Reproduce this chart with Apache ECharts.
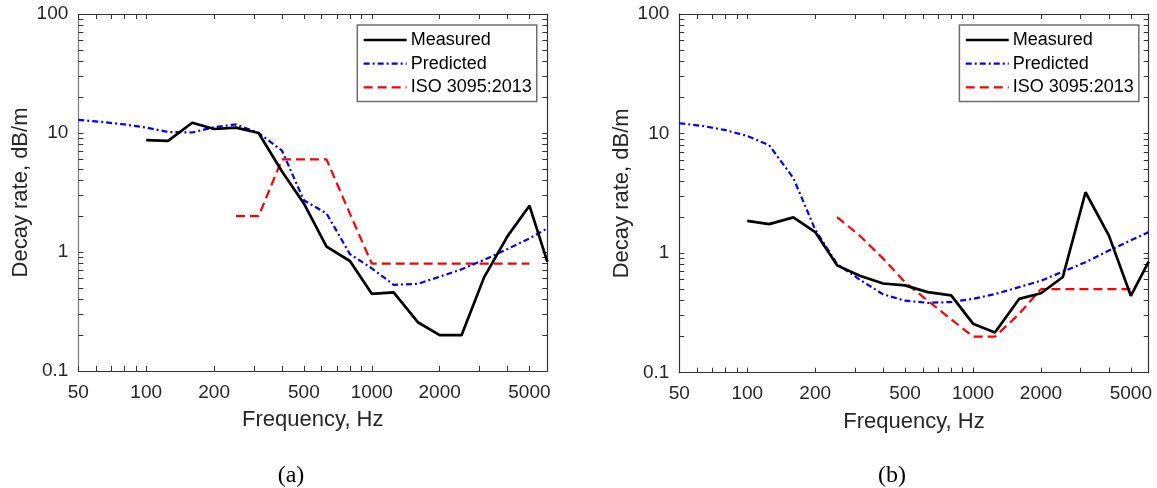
<!DOCTYPE html>
<html>
<head>
<meta charset="utf-8">
<script src="https://cdn.jsdelivr.net/npm/echarts@6/dist/echarts.min.js"></script>
<style>
html,body{margin:0;padding:0;background:#fff;}
#c{width:1157px;height:488px;}
</style>
</head>
<body>
<div id="c"></div>
<script>
// ---- data ----
const freqPredicted = [50, 63, 80, 100, 125, 160, 200, 250, 315, 400, 500, 630, 800, 1000, 1250, 1600, 2000, 2500, 3150, 4000, 5000, 6000];
const freqMeasured = [100, 125, 160, 200, 250, 315, 400, 500, 630, 800, 1000, 1250, 1600, 2000, 2500, 3150, 4000, 5000, 6000];
const freqISO = [250, 315, 400, 500, 630, 800, 1000, 1250, 1600, 2000, 2500, 3150, 4000, 5000];

const measuredA = [8.7, 8.6, 12.2, 10.8, 11.1, 10.0, 4.75, 2.56, 1.11, 0.84, 0.445, 0.458, 0.257, 0.2, 0.2, 0.615, 1.36, 2.45, 0.83];
const predictedA = [12.9, 12.4, 11.8, 11.1, 10.2, 10.1, 11.2, 11.8, 10.0, 7.1, 2.72, 2.11, 0.96, 0.73, 0.53, 0.54, 0.62, 0.715, 0.86, 1.06, 1.3, 1.58];
const isoA = [2.0, 2.0, 6.0, 6.0, 6.0, 2.1, 0.8, 0.8, 0.8, 0.8, 0.8, 0.8, 0.8, 0.8];

const measuredB = [1.86, 1.75, 1.99, 1.5, 0.79, 0.646, 0.557, 0.537, 0.472, 0.443, 0.257, 0.217, 0.414, 0.462, 0.632, 3.23, 1.4, 0.44, 0.85];
const predictedB = [12.2, 11.6, 10.7, 9.55, 8.0, 4.25, 1.57, 0.81, 0.6, 0.452, 0.4, 0.384, 0.39, 0.415, 0.454, 0.52, 0.587, 0.70, 0.84, 1.05, 1.28, 1.5];
const isoB = [2.0, 1.4, 0.9, 0.57, 0.4, 0.28, 0.2, 0.2, 0.31, 0.5, 0.5, 0.5, 0.5, 0.5];

const xTickLabels = [50, 100, 200, 500, 1000, 2000, 5000];
const xTicks = [50, 60, 70, 80, 90, 100, 200, 300, 400, 500, 600, 700, 800, 900, 1000, 2000, 3000, 4000, 5000, 6000];
const yTickLabels = [0.1, 1, 10, 100];
const yTicks = [0.1, 0.2, 0.3, 0.4, 0.5, 0.6, 0.7, 0.8, 0.9, 1, 2, 3, 4, 5, 6, 7, 8, 9, 10, 20, 30, 40, 50, 60, 70, 80, 90, 100];
const seriesNames = ['Measured', 'Predicted', 'ISO 3095:2013'];
const captions = ['(a)', '(b)'];
const xName = 'Frequency, Hz';
const yName = 'Decay rate, dB/m';

// ---- chart ----
const FONT = 'Liberation Sans, Arial, sans-serif';
const AX = '#333333';
const pair = (xs, ys) => xs.map((x, i) => [x, ys[i]]);

const grids = [
  { left: 78.3, top: 14, width: 469, height: 357 },
  { left: 679.3, top: 14, width: 469.4, height: 358.7 }
];

const xAxes = [], yAxes = [];
grids.forEach((g, gi) => {
  xAxes.push({
    type: 'log', logBase: 10, min: 50, max: 6000, gridIndex: gi, position: 'bottom',
    name: xName, nameLocation: 'middle', nameGap: 38,
    nameTextStyle: { fontFamily: FONT, fontSize: 22, color: '#262626' },
    axisLine: { show: true, lineStyle: { color: AX, width: 1.2 } },
    axisTick: { show: true, inside: true, length: 5, customValues: xTicks, lineStyle: { color: AX, width: 1 } },
    axisLabel: { show: true, customValues: xTickLabels, margin: 12, fontFamily: FONT, fontSize: 19, color: '#262626',
      formatter: v => String(Math.round(v)) },
    splitLine: { show: false }, minorTick: { show: false }
  });
  xAxes.push({
    type: 'log', logBase: 10, min: 50, max: 6000, gridIndex: gi, position: 'top',
    axisLine: { show: true, lineStyle: { color: AX, width: 1.2 } },
    axisTick: { show: true, inside: true, length: 5, customValues: xTicks, lineStyle: { color: AX, width: 1 } },
    axisLabel: { show: false }, splitLine: { show: false }
  });
  yAxes.push({
    type: 'log', logBase: 10, min: 0.1, max: 100, gridIndex: gi, position: 'left',
    name: yName, nameLocation: 'middle', nameGap: 46, nameRotate: 90,
    nameTextStyle: { fontFamily: FONT, fontSize: 22, color: '#262626' },
    axisLine: { show: true, lineStyle: { color: gi === 0 ? '#7a7a7a' : AX, width: 1.2 } },
    axisTick: { show: true, inside: true, length: 5, customValues: yTicks, lineStyle: { color: AX, width: 1 } },
    axisLabel: { show: true, customValues: yTickLabels, margin: 10, fontFamily: FONT, fontSize: 19, color: '#262626',
      formatter: v => (v < 1 ? v.toFixed(1) : String(Math.round(v))) },
    splitLine: { show: false }, minorTick: { show: false }
  });
  yAxes.push({
    type: 'log', logBase: 10, min: 0.1, max: 100, gridIndex: gi, position: 'right',
    axisLine: { show: true, lineStyle: { color: AX, width: 1.2 } },
    axisTick: { show: true, inside: true, length: 5, customValues: yTicks, lineStyle: { color: AX, width: 1 } },
    axisLabel: { show: false }, splitLine: { show: false }
  });
});

const styles = [
  { color: '#000000', width: 2.7, type: 'solid' },
  { color: '#0000ff', width: 2.2, type: [6, 3, 2, 3] },
  { color: '#ff0000', width: 2.2, type: [9, 5] }
];

const datasets = [
  [pair(freqMeasured, measuredA), pair(freqPredicted, predictedA), pair(freqISO, isoA)],
  [pair(freqMeasured, measuredB), pair(freqPredicted, predictedB), pair(freqISO, isoB)]
];

const series = [];
datasets.forEach((ds, gi) => {
  ds.forEach((d, si) => {
    series.push({
      name: seriesNames[si], type: 'line', xAxisIndex: gi * 2, yAxisIndex: gi * 2,
      data: d, showSymbol: false, symbol: 'none', clip: true, animation: false,
      lineStyle: { color: styles[si].color, width: styles[si].width, type: styles[si].type },
      itemStyle: { color: styles[si].color },
      z: 3 - si
    });
  });
});

const legends = [357.3, 959.4].map(l => ({
  orient: 'vertical', left: l, top: 25,
  padding: [6, 5, 5, 5], itemGap: 5.7, itemWidth: 43, itemHeight: 18,
  backgroundColor: '#ffffff', borderColor: '#6e6e6e', borderWidth: 1.5,
  textStyle: { fontFamily: FONT, fontSize: 18, color: '#000', padding: [0, 0, 0, -1] },
  itemStyle: { opacity: 0, borderWidth: 0 },
  lineStyle: { width: 'inherit' },
  data: seriesNames.slice(),
  selectedMode: false
}));

const titles = [
  { text: captions[0], left: 286, top: 459 },
  { text: captions[1], left: 887, top: 459 }
].map(t => ({ text: t.text, left: t.left, top: t.top, textAlign: 'center',
  textStyle: { fontFamily: 'Liberation Serif, Times New Roman, serif', fontSize: 24, fontWeight: 'normal', color: '#000' } }));

const chart = echarts.init(document.getElementById('c'), null, { renderer: 'canvas' });
chart.setOption({
  animation: false,
  backgroundColor: '#ffffff',
  title: titles,
  legend: legends,
  grid: grids,
  xAxis: xAxes,
  yAxis: yAxes,
  series: series
});
</script>
</body>
</html>
